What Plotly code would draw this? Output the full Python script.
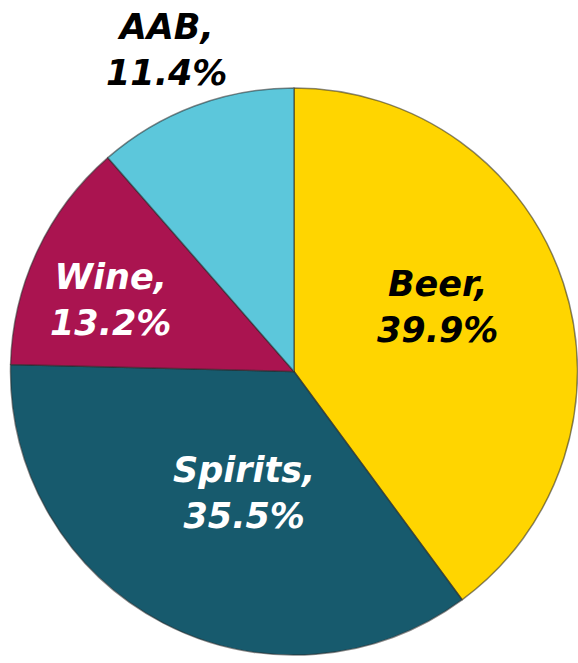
import math
import plotly.graph_objects as go

labels = ["Beer", "Spirits", "Wine", "AAB"]
values = [39.9, 35.5, 13.2, 11.4]
colors = ["#FFD500", "#175A6D", "#AA1450", "#5CC7DB"]
text_colors = ["#000000", "#FFFFFF", "#FFFFFF", "#000000"]
label_radius = [0.555, 0.463, 0.693, 1.219]   # radial position of each label (fraction of radius)
label_shift = [-6.0, -5.1, -3.9, -1.1]         # angular nudge of each label (degrees)

W, H = 578, 663
dom_x = [10 / W, 1.0]
dom_y = [1 - 655 / H, 1 - 88 / H]

fig = go.Figure(go.Pie(
    labels=labels,
    values=values,
    sort=False,
    direction="clockwise",
    rotation=0,
    marker=dict(colors=colors, line=dict(color="rgba(40,40,40,0.55)", width=1.5)),
    textinfo="none",
    domain=dict(x=dom_x, y=dom_y),
    showlegend=False,
    hoverinfo="none",
))

# label positions derived from the slice mid-angles
cx_px = (dom_x[0] + dom_x[1]) / 2 * W
cy_px = (1 - (dom_y[0] + dom_y[1]) / 2) * H
radius = min((dom_x[1] - dom_x[0]) * W, (dom_y[1] - dom_y[0]) * H) / 2
total = sum(values)
cum = 0.0
for lab, val, tc, f, sh in zip(labels, values, text_colors, label_radius, label_shift):
    mid = (cum + val / 2) / total * 2 * math.pi + math.radians(sh)
    cum += val
    px = cx_px + radius * f * math.sin(mid)
    py = cy_px - radius * f * math.cos(mid)
    fig.add_annotation(
        x=px / W, y=1 - py / H, xref="paper", yref="paper",
        text=f"<b><i>{lab},<br>{val:.1f}%</i></b>",
        showarrow=False, xanchor="center", yanchor="middle",
        font=dict(family="DejaVu Sans", size=35, color=tc),
    )

fig.update_layout(
    width=W, height=H,
    margin=dict(l=0, r=0, t=0, b=0),
    paper_bgcolor="white",
    plot_bgcolor="white",
)

fig.write_html("out.html")
